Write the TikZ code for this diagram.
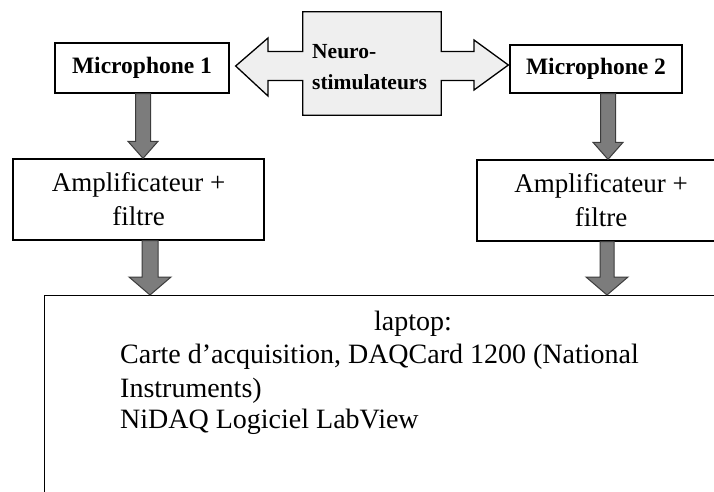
\documentclass[tikz,border=0pt]{standalone}
\usepackage{fontspec}
\setmainfont{Liberation Serif}
\usetikzlibrary{calc}
\definecolor{arrowfill}{HTML}{7C7C7C}
\definecolor{arrowline}{HTML}{3C3C3C}
\definecolor{neurofill}{HTML}{EFEFEF}
\tikzset{
  box/.style={draw=black, line width=1.3pt, fill=white, rectangle, inner sep=0pt},
  blockarrow/.style={fill=arrowfill, draw=arrowline, line width=1pt, line join=miter},
  miclabel/.style={font=\fontsize{23.5}{26}\selectfont\bfseries},
  amplabel/.style={font=\fontsize{27}{34}\selectfont, align=center},
  laplabel/.style={font=\fontsize{28}{33}\selectfont, anchor=base west, inner sep=0pt},
}
\newcommand\blockdown[5]{%
  \path[blockarrow] let \p1=(#1), \p2=(#2) in
    (\x1-#3/2,\y1) -- (\x1+#3/2,\y1) -- (\x1+#3/2,\y2+#5) -- (\x1+#4/2,\y2+#5)
    -- (\x1,\y2) -- (\x1-#4/2,\y2+#5) -- (\x1-#3/2,\y2+#5) -- cycle;}
\begin{document}
\begin{tikzpicture}[x=1pt,y=-1pt]
\useasboundingbox (0,0) rectangle (714,491);
\clip (0,0) rectangle (714,491);
\fill[white] (0,0) rectangle (714,491);

% boxes
\node[box, minimum width=174pt, minimum height=50pt, miclabel] (mic1) at (142,68) {Microphone 1};
\node[box, minimum width=172pt, minimum height=48pt, miclabel] (mic2) at (596,69) {Microphone 2};
\node[box, minimum width=251pt, minimum height=81pt, amplabel] (amp1) at (138.5,199.5) {Amplificateur +\\filtre};
\node[box, minimum width=248pt, minimum height=81pt, amplabel] (amp2) at (601,200.5) {Amplificateur +\\filtre};
\node[box, minimum width=700pt, minimum height=220pt, anchor=north west] (laptop) at (44,295) {};

% neurostimulateur box with double arrow
\node[minimum width=138pt, minimum height=103pt, inner sep=0pt] (neuro) at (372,63.5) {};
\path[fill=neurofill, draw=black, line width=1.3pt, line join=miter]
  let \p1=(neuro.north west), \p2=(neuro.south east), \p3=(mic1.east), \p4=(mic2.west) in
  (\x1,\y1) -- (\x2,\y1) -- (\x2,-51.5pt) -- (474pt,-51.5pt) -- (474pt,-40pt)
  -- (\x4-1pt,-65pt) -- (474pt,-90pt) -- (474pt,-80.5pt) -- (\x2,-80.5pt)
  -- (\x2,\y2) -- (\x1,\y2) -- (\x1,-80.5pt) -- (268pt,-80.5pt) -- (268pt,-96pt)
  -- (\x3+6pt,-66pt) -- (268pt,-38pt) -- (268pt,-51.5pt) -- (\x1,-51.5pt) -- cycle;
\node[font=\fontsize{21.5}{31}\selectfont\bfseries, align=left, anchor=base west, inner sep=0pt] (neurotext) at (312,89) {Neuro-\\stimulateurs};

% down arrows
\blockdown{$(mic1.south)+(1,0)$}{amp1.north}{15pt}{30pt}{17pt}
\blockdown{$(amp1.south)+(11.5,0)$}{laptop.north}{16pt}{42pt}{18pt}
\blockdown{$(mic2.south)+(12,0)$}{amp2.north}{15pt}{30pt}{17pt}
\blockdown{$(amp2.south)+(6,0)$}{laptop.north}{14pt}{42pt}{18pt}

% laptop text
\node[laplabel, anchor=base] (l1) at (413,330) {laptop:};
\node[laplabel] (l2) at (120,363) {Carte d’acquisition, DAQCard 1200 (National};
\node[laplabel] (l3) at (120,397) {Instruments)};
\node[laplabel] (l4) at (120,428) {NiDAQ Logiciel LabView};
\end{tikzpicture}
\end{document}
